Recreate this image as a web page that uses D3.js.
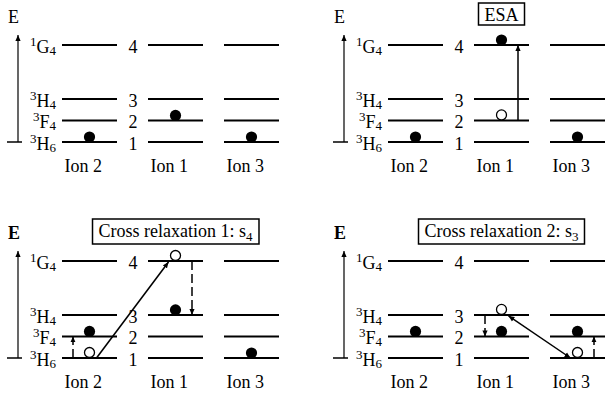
<!DOCTYPE html>
<html><head><meta charset="utf-8">
<script src="https://cdn.jsdelivr.net/npm/d3@7"></script>
<style>
html,body{margin:0;padding:0;background:#fff;}
svg{display:block;font-family:"Liberation Serif","Times New Roman",serif;}
</style></head><body>
<svg id="chart" width="605" height="399"></svg>
<script>
// Tm3+ energy-level schemes for three neighbouring ions
const ions = ["Ion 2", "Ion 1", "Ion 3"];
const levelNumbers = ["1", "2", "3", "4"];
const levelSup = ["3", "3", "3", "1"];
const levelBase = ["H", "F", "H", "G"];
const levelSub = ["6", "4", "4", "4"];
const levelEnergy = [0, 1, 2, 4.5];   // schematic spacing of the manifolds

const panelTitles = ["", "ESA", "Cross relaxation 1: s", "Cross relaxation 2: s"];
const panelTitleSubs = ["", "", "4", "3"];
const panelBoldE = [false, false, true, true];

// occupied (filled) and emptied (open) states per panel: [ion, level]
const filledStates = [
  [["Ion 2", 1], ["Ion 1", 2], ["Ion 3", 1]],
  [["Ion 2", 1], ["Ion 1", 4], ["Ion 3", 1]],
  [["Ion 2", 2], ["Ion 1", 3], ["Ion 3", 1]],
  [["Ion 2", 2], ["Ion 1", 2], ["Ion 3", 2]]
];
const openStates = [
  [],
  [["Ion 1", 2]],
  [["Ion 2", 1], ["Ion 1", 4]],
  [["Ion 1", 3], ["Ion 3", 1]]
];
// transitions per panel: [fromIon, fromLevel, toIon, toLevel, line style, heads, side of the level]
const transitions = [
  [],
  [["Ion 1", 2, "Ion 1", 4, "solid", "end", 1]],
  [["Ion 2", 1, "Ion 1", 4, "solid", "end", 0],
   ["Ion 1", 4, "Ion 1", 3, "dashed", "end", 1],
   ["Ion 2", 1, "Ion 2", 2, "dashed", "end", -1]],
  [["Ion 3", 1, "Ion 1", 3, "solid", "both", 0],
   ["Ion 1", 3, "Ion 1", 2, "dashed", "end", -1],
   ["Ion 3", 1, "Ion 3", 2, "dashed", "end", 1]]
];

const svg = d3.select("#chart");
const FS = 18;
const FS_SMALL = 13;

const defs = svg.append("defs");
defs.append("marker")
  .attr("id", "head")
  .attr("viewBox", "0 -3 6 6")
  .attr("refX", 6).attr("refY", 0)
  .attr("markerWidth", 6).attr("markerHeight", 6)
  .attr("markerUnits", "userSpaceOnUse")
  .attr("orient", "auto-start-reverse")
  .append("path").attr("d", "M0,-2.6L6,0L0,2.6Z").attr("fill", "#000");

const y = d3.scaleLinear().domain([0, 4.5]).range([142, 45]);
const levelY = n => y(levelEnergy[n - 1]);
const lineStart = d3.scaleOrdinal(ions, [62, 148, 224]);
const lineLen = 55;
const cx = ion => lineStart(ion) + lineLen / 2;
const panelX = d3.scaleOrdinal([0, 1], [0, 326]);
const panelY = d3.scaleOrdinal([0, 1], [0, 216]);

panelTitles.forEach((title, p) => {
  const g = svg.append("g")
    .attr("transform", `translate(${panelX(p % 2)},${panelY(Math.floor(p / 2))})`);

  // energy axis
  g.append("text").attr("x", 8).attr("y", 23)
    .attr("font-size", FS).attr("font-weight", panelBoldE[p] ? "bold" : "normal")
    .text("E");
  g.append("line").attr("x1", 18).attr("x2", 18)
    .attr("y1", levelY(1)).attr("y2", levelY(4) - 10)
    .attr("stroke", "#000").attr("stroke-width", 1.2)
    .attr("marker-end", "url(#head)");
  g.append("line").attr("x1", 7).attr("x2", 22)
    .attr("y1", levelY(1)).attr("y2", levelY(1))
    .attr("stroke", "#000").attr("stroke-width", 1.5);

  // term symbols, level numbers and the level lines of each ion
  levelNumbers.forEach((num, i) => {
    const ly = levelY(i + 1);
    const t = g.append("text").attr("x", 56).attr("y", ly + 8)
      .attr("text-anchor", "end").attr("font-size", FS);
    t.append("tspan").attr("font-size", FS_SMALL).attr("dy", -7).text(levelSup[i]);
    t.append("tspan").attr("dy", 7).text(levelBase[i]);
    t.append("tspan").attr("font-size", FS_SMALL).attr("dy", 2).text(levelSub[i]);

    g.append("text").attr("x", 133).attr("y", ly + 8)
      .attr("text-anchor", "middle").attr("font-size", FS).text(num);

    ions.forEach(ion => {
      g.append("line")
        .attr("x1", lineStart(ion)).attr("x2", lineStart(ion) + lineLen)
        .attr("y1", ly).attr("y2", ly)
        .attr("stroke", "#000").attr("stroke-width", 2);
    });
  });

  ions.forEach(ion => {
    g.append("text").attr("x", lineStart(ion) + 2.5).attr("y", 172)
      .attr("font-size", FS).text(ion);
  });

  // transitions
  transitions[p].forEach(([fi, fl, ti, tl, style, heads, side]) => {
    let x1, x2, y1 = levelY(fl), y2 = levelY(tl);
    if (fi === ti) {
      x1 = x2 = cx(fi) + side * 16.5;
    } else {
      const s = Math.sign(cx(ti) - cx(fi));
      x1 = cx(fi) + s * 7;
      x2 = cx(ti) - s * 7;
      y1 += (fl < tl ? 0 : -2);
      y2 += (tl > fl ? 1 : -2);
    }
    const ln = g.append("line")
      .attr("x1", x1).attr("y1", y1).attr("x2", x2).attr("y2", y2)
      .attr("stroke", "#000").attr("stroke-width", 1.5)
      .attr("marker-end", "url(#head)");
    if (style === "dashed") ln.attr("stroke-dasharray", "9,4");
    if (heads === "both") ln.attr("marker-start", "url(#head)");
  });

  // populations
  g.selectAll("circle.filled").data(filledStates[p]).join("circle")
    .attr("class", "filled")
    .attr("cx", d => cx(d[0])).attr("cy", d => levelY(d[1]) - 5)
    .attr("r", 5.6).attr("fill", "#000");
  g.selectAll("circle.open").data(openStates[p]).join("circle")
    .attr("class", "open")
    .attr("cx", d => cx(d[0])).attr("cy", d => levelY(d[1]) - 5.5)
    .attr("r", 5).attr("fill", "#fff").attr("stroke", "#000").attr("stroke-width", 1.3);

  // boxed process label
  if (title) {
    const lt = g.append("text").attr("x", cx("Ion 1")).attr("y", 21)
      .attr("text-anchor", "middle").attr("font-size", FS);
    lt.append("tspan").text(title);
    if (panelTitleSubs[p]) {
      lt.append("tspan").attr("font-size", FS_SMALL).attr("dy", 4).text(panelTitleSubs[p]);
    }
    const bb = lt.node().getBBox();
    g.insert("rect", "text")
      .attr("x", bb.x - 6).attr("y", bb.y - 2)
      .attr("width", bb.width + 12).attr("height", bb.height + 2)
      .attr("fill", "#fff").attr("stroke", "#000").attr("stroke-width", 1.5);
  }
});
</script>
</body></html>
